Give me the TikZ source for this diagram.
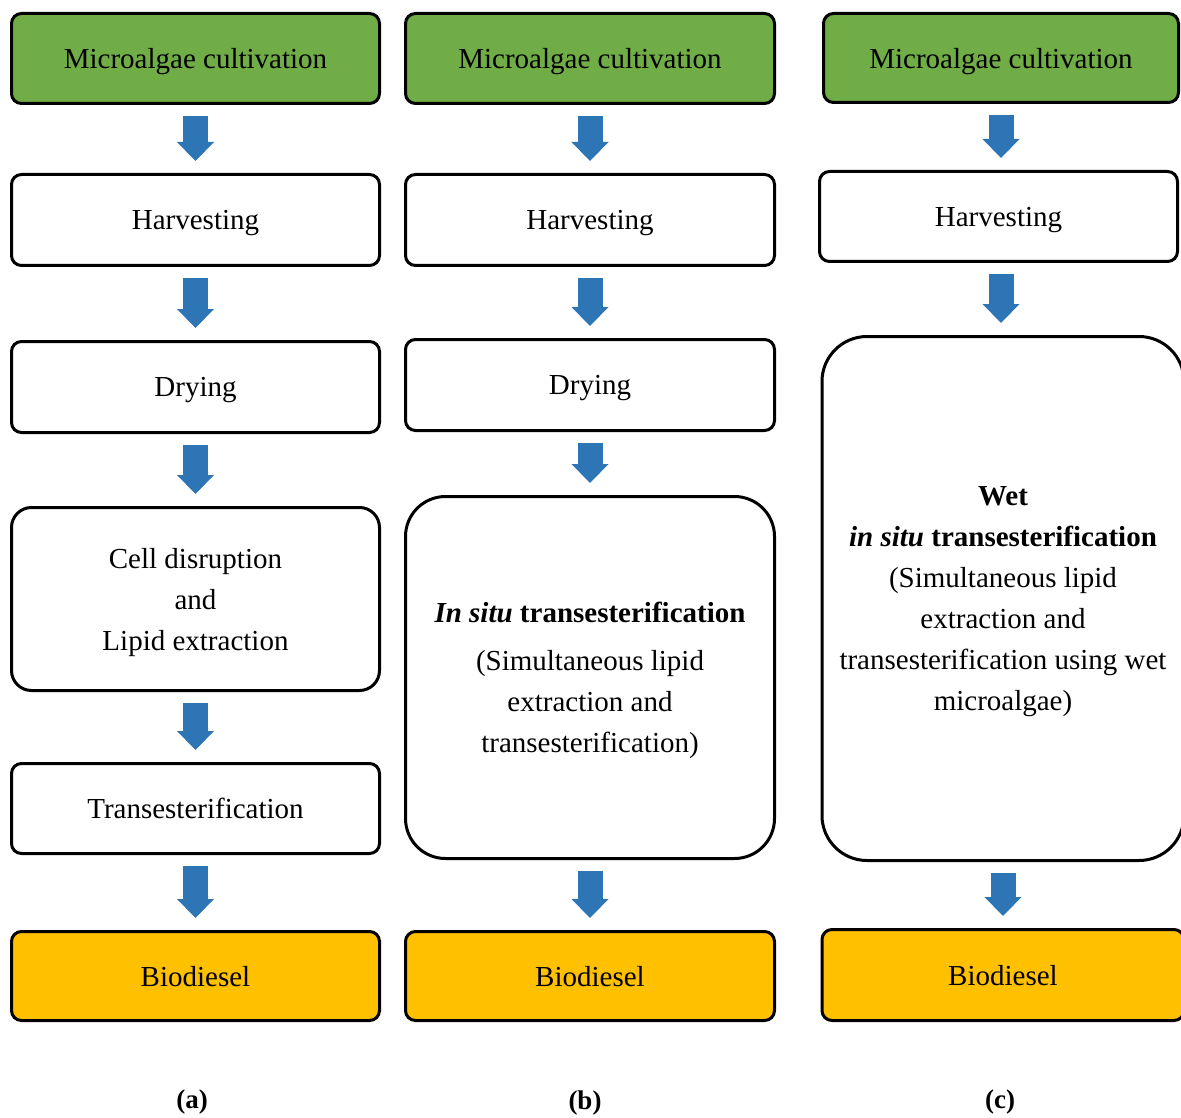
\documentclass[tikz,border=0pt]{standalone}
\usepackage{fontspec}
\setmainfont{Liberation Serif}
\usetikzlibrary{arrows.meta}
\definecolor{cgreen}{HTML}{70AD47}
\definecolor{cyellow}{HTML}{FFC000}
\definecolor{cblue}{HTML}{2E75B6}
\begin{document}
\begin{tikzpicture}[x=1pt,y=-1pt,
  box/.style={draw=black, line width=3pt, rounded corners=10pt, inner sep=0pt,
    align=center, text depth=0pt, font=\fontsize{29}{41}\selectfont},
  greenbox/.style={box, fill=cgreen},
  yellowbox/.style={box, fill=cyellow},
  flowarrow/.style={draw=cblue, line width=25pt, -{Triangle[length=19pt,width=36pt]},
    shorten <=11pt, shorten >=12pt},
  caption/.style={font=\fontsize{27}{30}\selectfont\bfseries}]
\useasboundingbox (0,0) rectangle (1181,1118);
\clip (0,0) rectangle (1181,1118);

% column (a)
\node[greenbox, minimum width=368pt, minimum height=90pt] (a1) at (195.5,58.5) {Microalgae cultivation};
\node[box, minimum width=368pt, minimum height=91pt] (a2) at (195.5,220) {Harvesting};
\node[box, minimum width=368pt, minimum height=91pt] (a3) at (195.5,387) {Drying};
\node[box, rounded corners=20pt, minimum width=368pt, minimum height=183pt] (a4) at (195.5,599) {Cell disruption\\and\\Lipid extraction};
\node[box, minimum width=368pt, minimum height=90pt] (a5) at (195.5,808.5) {Transesterification};
\node[yellowbox, minimum width=368pt, minimum height=89pt] (a6) at (195.5,976) {Biodiesel};

% column (b)
\node[greenbox, minimum width=369pt, minimum height=90pt] (b1) at (590,58.5) {Microalgae cultivation};
\node[box, minimum width=369pt, minimum height=91pt] (b2) at (590,220) {Harvesting};
\node[box, minimum width=369pt, minimum height=91pt] (b3) at (590,385) {Drying};
\node[box, rounded corners=40pt, minimum width=369pt, minimum height=362pt] (b4) at (590,677.5)
  {\textbf{\textit{In situ}} \textbf{transesterification}\\[7pt](Simultaneous lipid\\extraction and\\transesterification)};
\node[yellowbox, minimum width=369pt, minimum height=89pt] (b5) at (590,976) {Biodiesel};

% column (c)
\node[greenbox, minimum width=355pt, minimum height=89pt] (c1) at (1001,58) {Microalgae cultivation};
\node[box, minimum width=358pt, minimum height=90pt] (c2) at (998.5,216.5) {Harvesting};
\node[box, rounded corners=45pt, minimum width=362pt, minimum height=524pt] (c3) at (1003,598.5)
  {\textbf{Wet}\\\textbf{\textit{in situ}} \textbf{transesterification}\\(Simultaneous lipid\\extraction and\\transesterification using wet\\microalgae)};
\node[yellowbox, minimum width=362pt, minimum height=91pt] (c4) at (1003,975) {Biodiesel};

% arrows
\draw[flowarrow] (a1.south) -- (a2.north);
\draw[flowarrow] (a2.south) -- (a3.north);
\draw[flowarrow] (a3.south) -- (a4.north);
\draw[flowarrow] (a4.south) -- (a5.north);
\draw[flowarrow] (a5.south) -- (a6.north);

\draw[flowarrow] (b1.south) -- (b2.north);
\draw[flowarrow] (b2.south) -- (b3.north);
\draw[flowarrow] (b3.south) -- (b4.north);
\draw[flowarrow] (b4.south) -- (b5.north);

\coordinate (c1s) at (1001,104);
\coordinate (c2n) at (1001,170);
\coordinate (c2s) at (1001,263);
\coordinate (c3n) at (1001,335);
\coordinate (c3s) at (1003,862);
\coordinate (c4n) at (1003,928);
\draw[flowarrow] (c1s) -- (c2n);
\draw[flowarrow] (c2s) -- (c3n);
\draw[flowarrow] (c3s) -- (c4n);

% captions
\node[caption] (la) at (192,1102) {(a)};
\node[caption] (lb) at (585,1103) {(b)};
\node[caption] (lc) at (1000,1102) {(c)};
\end{tikzpicture}
\end{document}
